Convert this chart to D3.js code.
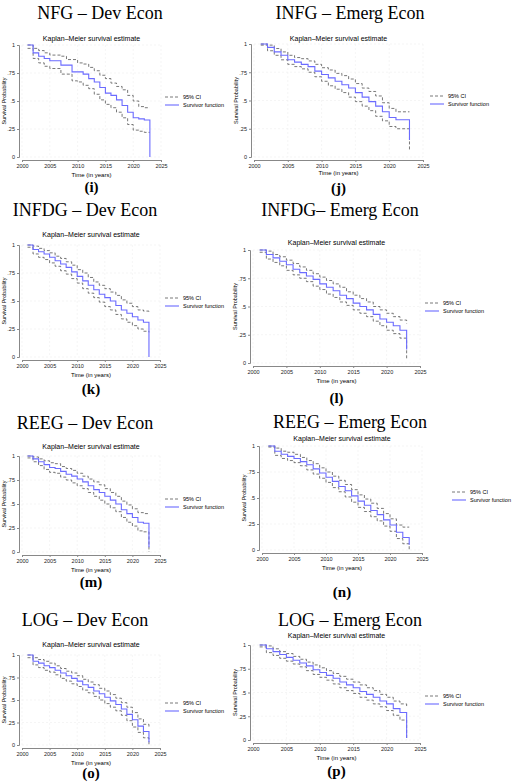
<!DOCTYPE html><html><head><meta charset="utf-8">
<script src="https://cdn.jsdelivr.net/npm/d3@7"></script>
<style>body{margin:0;background:#fff}</style></head><body>
<svg id="c" width="520" height="783"></svg>
<script>
const years=d3.range(2001,2024);
const panelTitles=["NFG   – Dev Econ","INFG – Emerg Econ","INFDG – Dev Econ","INFDG– Emerg Econ","REEG  – Dev Econ","REEG  – Emerg Econ","LOG – Dev Econ","LOG – Emerg Econ"];
const panelLabels=["(i)","(j)","(k)","(l)","(m)","(n)","(o)","(p)"];
const xTicks=[2000,2005,2010,2015,2020,2025];
const yTicks=[0,0.25,0.5,0.75,1];
const yTickLabels=["0",".25",".5",".75","1"];
const survS=[
[1,0.93,0.90,0.88,0.86,0.86,0.82,0.82,0.76,0.76,0.74,0.70,0.67,0.62,0.57,0.55,0.51,0.46,0.40,0.35,0.34,0.33,0.33],
[1,0.97,0.93,0.90,0.86,0.84,0.82,0.80,0.76,0.73,0.70,0.67,0.64,0.61,0.57,0.53,0.49,0.45,0.40,0.35,0.33,0.33,0.33],
[1,0.96,0.94,0.92,0.89,0.86,0.83,0.80,0.76,0.72,0.68,0.64,0.60,0.56,0.53,0.50,0.46,0.42,0.39,0.36,0.33,0.31,0.30],
[1,0.96,0.93,0.90,0.87,0.83,0.80,0.77,0.74,0.70,0.67,0.64,0.60,0.57,0.53,0.50,0.47,0.43,0.39,0.36,0.33,0.29,0.25],
[1,0.97,0.94,0.91,0.88,0.87,0.84,0.81,0.79,0.76,0.73,0.69,0.65,0.62,0.58,0.54,0.50,0.44,0.40,0.36,0.31,0.30,0.22],
[1,0.95,0.92,0.90,0.88,0.85,0.82,0.78,0.74,0.70,0.66,0.61,0.57,0.52,0.47,0.43,0.38,0.34,0.29,0.24,0.17,0.12,0.12],
[1,0.93,0.91,0.88,0.86,0.83,0.80,0.77,0.74,0.71,0.67,0.64,0.60,0.57,0.53,0.49,0.45,0.40,0.34,0.28,0.21,0.15,0.10],
[1,0.96,0.93,0.90,0.87,0.84,0.81,0.78,0.74,0.71,0.68,0.65,0.61,0.58,0.55,0.51,0.48,0.45,0.41,0.38,0.33,0.29,0.25]];
const survEnd=[0,0.15,0,0.12,0.05,0.05,0.03,0.02];
const hiS=[
[1,0.97,0.95,0.93,0.91,0.91,0.90,0.87,0.87,0.84,0.83,0.80,0.77,0.73,0.70,0.66,0.63,0.60,0.55,0.50,0.45,0.44,0.44],
[1,0.99,0.96,0.93,0.90,0.88,0.87,0.85,0.82,0.79,0.77,0.74,0.72,0.69,0.65,0.61,0.58,0.54,0.48,0.43,0.40,0.40,0.40],
[1,0.99,0.97,0.95,0.93,0.90,0.88,0.85,0.82,0.78,0.75,0.71,0.67,0.64,0.61,0.58,0.55,0.51,0.48,0.45,0.42,0.41,0.40],
[1,0.99,0.96,0.94,0.91,0.88,0.85,0.82,0.79,0.76,0.73,0.70,0.67,0.63,0.60,0.57,0.54,0.50,0.47,0.44,0.41,0.38,0.35],
[1,0.99,0.97,0.95,0.93,0.92,0.89,0.87,0.85,0.82,0.79,0.76,0.73,0.70,0.66,0.62,0.58,0.53,0.49,0.45,0.41,0.40,0.40],
[1,0.98,0.95,0.94,0.92,0.89,0.86,0.83,0.79,0.75,0.71,0.67,0.63,0.58,0.53,0.49,0.45,0.40,0.35,0.30,0.24,0.22,0.22],
[1,0.97,0.95,0.93,0.91,0.88,0.85,0.82,0.80,0.77,0.73,0.70,0.67,0.63,0.60,0.56,0.52,0.47,0.42,0.36,0.29,0.23,0.20],
[1,0.99,0.96,0.93,0.91,0.88,0.85,0.82,0.79,0.76,0.73,0.70,0.67,0.64,0.61,0.58,0.55,0.52,0.48,0.45,0.41,0.38,0.35]];
const hiEnd=[0.44,0.40,0.40,0.35,0.40,0.22,0.20,0.35];
const loS=[
[0.97,0.88,0.84,0.81,0.79,0.79,0.74,0.74,0.68,0.67,0.64,0.61,0.56,0.51,0.47,0.44,0.40,0.35,0.29,0.24,0.23,0.22,0.22],
[0.99,0.94,0.90,0.86,0.82,0.80,0.78,0.75,0.71,0.67,0.63,0.60,0.57,0.53,0.49,0.45,0.41,0.36,0.32,0.27,0.25,0.25,0.25],
[0.98,0.92,0.89,0.87,0.84,0.81,0.77,0.74,0.70,0.66,0.61,0.57,0.53,0.49,0.45,0.42,0.38,0.34,0.31,0.28,0.25,0.23,0.22],
[0.98,0.92,0.89,0.86,0.82,0.78,0.75,0.72,0.68,0.65,0.61,0.58,0.54,0.51,0.47,0.44,0.41,0.37,0.33,0.29,0.26,0.22,0.18],
[0.98,0.94,0.90,0.86,0.83,0.82,0.78,0.75,0.72,0.69,0.66,0.62,0.58,0.54,0.50,0.46,0.42,0.36,0.31,0.27,0.22,0.21,0.15],
[0.99,0.91,0.88,0.86,0.84,0.81,0.77,0.73,0.69,0.65,0.60,0.56,0.51,0.46,0.41,0.37,0.32,0.28,0.23,0.18,0.11,0.06,0.06],
[0.97,0.89,0.86,0.83,0.81,0.78,0.74,0.71,0.68,0.65,0.61,0.58,0.54,0.50,0.46,0.42,0.38,0.33,0.27,0.20,0.14,0.08,0.03],
[0.98,0.92,0.89,0.86,0.83,0.80,0.77,0.73,0.69,0.66,0.63,0.59,0.55,0.52,0.49,0.45,0.42,0.38,0.35,0.31,0.26,0.21,0.15]];
const loEnd=[0.22,0.05,0.22,0.03,0.0,0.0,0.0,0.0];

// layout: [titleX,titleY,kmY,x0,x1,yTop,yBot,legX,legY,xlabY,labY]
const L=[
[100,19,41,22,161,45,157,165,97,177,192],
[350,19,41,254,423,44,157,430,96,175,193],
[85,216,237,22,160,245,357,165,298,377,394],
[340,216,245,253,420,250,363,425,303,383,403],
[85,429,449,22,160,456,552,165,499,572,587],
[350,428,441,262,422,446,550,452,492,570,597],
[85,626,647,22,160,655,745,165,703,765,778],
[350,626,638,253,420,645,740,425,696,760,776]];
const svg=d3.select("#c");
const SANS="Liberation Sans, Arial, sans-serif";
L.forEach((p,i)=>{
 const [tx,ty,ky,x0,x1,yt,yb,lx,ly,xly,lby]=p;
 const g=svg.append("g");
 const x=d3.scaleLinear().domain([2000,2025]).range([x0,x1]);
 const y=d3.scaleLinear().domain([0,1]).range([yb,yt]);
 g.append("text").attr("x",tx).attr("y",ty).attr("text-anchor","middle").attr("font-family","Liberation Serif, Times New Roman, serif").attr("font-size",18).text(panelTitles[i]);
 g.append("text").attr("x",(x0+x1)/2).attr("y",ky).attr("text-anchor","middle").attr("font-family",SANS).attr("font-size",7).text("Kaplan–Meier survival estimate");
 yTicks.forEach(v=>g.append("line").attr("x1",x0).attr("x2",x1).attr("y1",y(v)).attr("y2",y(v)).attr("stroke","#eee").attr("stroke-width",0.6).attr("stroke-dasharray","2,2"));
 xTicks.forEach(v=>g.append("line").attr("x1",x(v)).attr("x2",x(v)).attr("y1",yt).attr("y2",yb).attr("stroke","#eee").attr("stroke-width",0.6).attr("stroke-dasharray","2,2"));
 const xa=g.append("g").attr("transform",`translate(0,${yb+3})`).call(d3.axisBottom(x).tickValues(xTicks).tickFormat(d3.format("d")).tickSize(2).tickPadding(2));
 const ya=g.append("g").attr("transform",`translate(${x0-3},0)`).call(d3.axisLeft(y).tickValues(yTicks).tickFormat((d,j)=>yTickLabels[j]).tickSize(2).tickPadding(2));
 [xa,ya].forEach(a=>{a.selectAll("text").attr("font-family",SANS).attr("font-size",5.5).attr("fill","#222");a.selectAll("line,path").attr("stroke","#888");});
 g.append("text").attr("x",(x0+x1)/2).attr("y",xly).attr("text-anchor","middle").attr("font-family",SANS).attr("font-size",6).text("Time (in years)");
 g.append("text").attr("transform",`translate(${x0-16},${(yt+yb)/2}) rotate(-90)`).attr("text-anchor","middle").attr("font-family",SANS).attr("font-size",5.5).text("Survival Probability");
 g.append("text").attr("x",(x0+x1)/2).attr("y",lby).attr("text-anchor","middle").attr("font-family","Liberation Serif, Times New Roman, serif").attr("font-weight","bold").attr("font-size",15).text(panelLabels[i]);
 const line=d3.line().x(d=>x(d[0])).y(d=>y(d[1])).curve(d3.curveStepAfter);
 [[hiS[i],hiEnd[i]],[loS[i],loEnd[i]]].forEach(([arr,end])=>{
   const a=years.map((yr,j)=>[yr,arr[j]]);
   g.append("path").attr("d",line(a)+`V${y(end)}`).attr("fill","none").attr("stroke","#555").attr("stroke-width",0.8).attr("stroke-dasharray","3,2");
 });
 const s=years.map((yr,j)=>[yr,survS[i][j]]);
 g.append("path").attr("d",line(s)+`V${y(survEnd[i])}`).attr("fill","none").attr("stroke","#6b6bff").attr("stroke-width",1.1);
 g.append("line").attr("x1",lx).attr("x2",lx+14).attr("y1",ly).attr("y2",ly).attr("stroke","#555").attr("stroke-width",0.8).attr("stroke-dasharray","3,2");
 g.append("text").attr("x",lx+18).attr("y",ly+2).attr("font-family",SANS).attr("font-size",5.5).text("95% CI");
 g.append("line").attr("x1",lx).attr("x2",lx+14).attr("y1",ly+8).attr("y2",ly+8).attr("stroke","#6b6bff").attr("stroke-width",1.1);
 g.append("text").attr("x",lx+18).attr("y",ly+10).attr("font-family",SANS).attr("font-size",5.5).text("Survivor function");
});
</script></body></html>
